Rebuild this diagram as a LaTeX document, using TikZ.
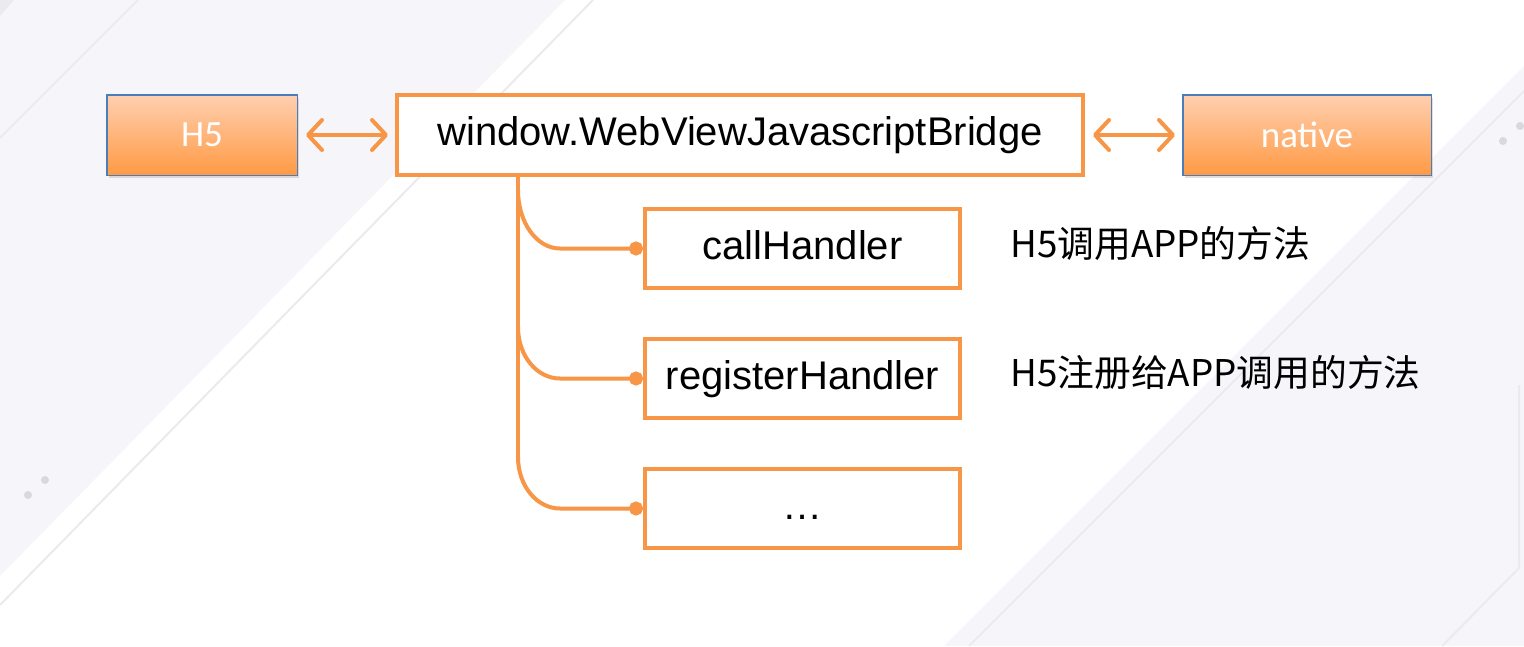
\documentclass[tikz,border=0pt]{standalone}
\usepackage{fontspec}
\setmainfont{Liberation Sans}
\newfontfamily\cjkfont{Noto Sans CJK SC}
\newfontfamily\calfont{Carlito}
\usetikzlibrary{arrows.meta,shadows}
\definecolor{org}{HTML}{F79646}
\definecolor{bgg}{HTML}{F6F6FA}
\definecolor{lnc}{HTML}{EBEBEE}
\definecolor{dotc}{HTML}{D9D9DC}
\definecolor{bluebd}{HTML}{4A7EBB}
\definecolor{gtop}{HTML}{FFCFB0}
\definecolor{gbot}{HTML}{FF9A44}
\begin{document}
\begin{tikzpicture}[x=1pt,y=-1pt,
 sidebox/.style={draw=bluebd, line width=1.5pt, top color=gtop, bottom color=gbot,
   inner sep=0pt, font=\calfont\fontsize{37}{42}\selectfont, text=white,
   drop shadow={opacity=0.25,shadow xshift=2pt,shadow yshift=-3pt}},
 obox/.style={draw=org, line width=4pt, fill=white, inner sep=0pt, minimum height=79pt,
   font=\fontsize{40}{48}\selectfont, text height=29pt, text depth=8pt},
 conn/.style={draw=org, line width=4pt},
 dbl/.style={org, line width=4pt, line cap=round, {Straight Barb[length=14pt,width=30pt,round]}-{Straight Barb[length=14pt,width=30pt,round]}},
 lbl/.style={anchor=west, inner sep=0pt, font=\cjkfont\fontsize{36.8}{40}\selectfont}
]
% background
\fill[white] (0,0) rectangle (1524,646);
\useasboundingbox (0,0) rectangle (1524,646);
\fill[bgg] (0,0) -- (565,0) -- (0,576) -- cycle;
\draw[lnc, line width=2pt] (593,0) -- (0,605);
\draw[lnc, line width=2pt] (138,0) -- (0,138);
\fill[lnc] (0,0) -- (14,0) -- (0,16) -- cycle;
\fill[bgg] (1524,66) -- (1524,646) -- (944,646) -- cycle;
\draw[lnc, line width=2pt] (1524,91) -- (969,646);
\draw[lnc, line width=2pt] (1519,385) -- (1519,568) -- (1442,646);
\fill[dotc] (1520,126) circle (4) (1503,141) circle (4) (45,480) circle (4) (28,495) circle (4);

% nodes
\node[sidebox, minimum width=190.5pt, minimum height=80.5pt] (h5) at (202,135) {H5};
\node[obox, minimum width=686pt, minimum height=80pt] (bridge) at (740,135) {window.WebViewJavascriptBridge};
\node[sidebox, minimum width=248.5pt, minimum height=80.5pt] (native) at (1307,135) {native};
\node[obox, minimum width=315pt] (call) at (802.5,248.5) {callHandler};
\node[obox, minimum width=315pt] (reg) at (802.5,378.5) {registerHandler};
\node[obox, minimum width=315pt] (more) at (802.5,508.5) {…};

\node[lbl] (l1) at (1010,243) {H5调用APP的方法};
\node[lbl] (l2) at (1010,373) {H5注册给APP调用的方法};

% arrows
\draw[dbl, shorten <=8pt, shorten >=7pt] (h5) -- (bridge);
\draw[dbl, shorten <=8pt, shorten >=7pt] (bridge) -- (native);

% tree connectors
\coordinate (b1) at (518,190);
\coordinate (b2) at (518,327);
\coordinate (b3) at (518,457);
\draw[conn] (bridge.south -| b1) -- (b3);
\draw[conn, -{Circle[length=14pt]}] (b1) .. controls +(0,33) and +(-23,0) .. (560,248.5) -- (call.west);
\draw[conn, -{Circle[length=14pt]}] (b2) .. controls +(0,29) and +(-23,0) .. (560,378.5) -- (reg.west);
\draw[conn, -{Circle[length=14pt]}] (b3) .. controls +(0,29) and +(-23,0) .. (560,508.5) -- (more.west);
\end{tikzpicture}
\end{document}
